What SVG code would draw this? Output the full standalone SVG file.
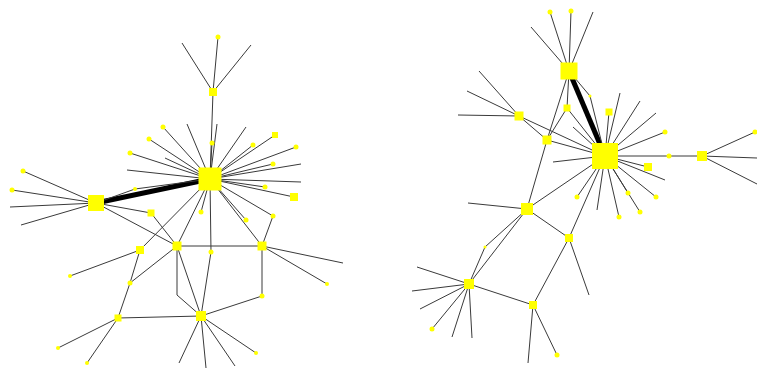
<svg xmlns="http://www.w3.org/2000/svg" width="757" height="370" viewBox="0 0 757 370">
<style>
.e{stroke:#3a3a3a;stroke-width:1;fill:none}
.t{stroke:#000;stroke-width:5;fill:none}
.n{fill:#ffff00}
</style>
<rect width="757" height="370" fill="#fff"/>
<g id="connectors">
<path class="t" d="M96,203 L210,179"/>
<path class="e" d="M210,179 L213,92 M213,92 L218,37 M213,92 L182,43 M213,92 L251,45
M210,179 L187,124 M210,179 L217,124 M210,179 L212,143 M210,179 L246,127 M210,179 L253,145 M210,179 L275,135 M210,179 L296,147 M210,179 L273,164 M210,179 L301,164 M210,179 L301,182 M210,179 L265,187 M210,179 L294,197
M210,179 L163,127 M210,179 L149,139 M210,179 L130,153 M210,179 L127,170 M210,179 L165,158
M210,179 L135,189 M96,203 L135,189
M96,203 L23,171 M96,203 L12,190 M96,203 L10,207 M96,203 L21,225
M96,203 L151,213 M96,203 L177,246 M151,213 L177,246
M210,179 L201,212 M210,179 L177,246 M210,179 L140,250 M210,179 L211,252 M210,179 L246,220 M210,179 L262,246 M210,179 L273,216 M273,216 L262,246
M177,246 L262,246 M177,246 L201,316 M177,246 L177,295 L201,316 M177,246 L130,283
M140,250 L70,276 M140,250 L130,283 M130,283 L118,318
M118,318 L58,348 M118,318 L87,363 M118,318 L201,316
M211,252 L201,316
M262,246 L343,263 M262,246 L327,284 M262,246 L262,296 M262,296 L201,316
M201,316 L179,363 M201,316 L206,368 M201,316 L235,366 M201,316 L256,353"/>
<path class="t" d="M569,71 L605,156"/>
<path class="e" d="M569,71 L550,12 M569,71 L571,11 M569,71 L531,27 M569,71 L593,12
M569,71 L567,108 M569,71 L547,140 M569,71 L590,96 M590,96 L605,156
M567,108 L547,140 M567,108 L605,156
M519,116 L479,71 M519,116 L467,91 M519,116 L458,115 M519,116 L547,140 M519,116 L605,156
M547,140 L605,156 M547,140 L527,209
M605,156 L609,112 M605,156 L620,93 M605,156 L640,101 M605,156 L656,113 M605,156 L665,132 M605,156 L669,156 M669,156 L702,156 M605,156 L648,167 M605,156 L665,180 M605,156 L656,197 M605,156 L640,212 M605,156 L628,193 M605,156 L619,217 M605,156 L597,210 M605,156 L577,197 M605,156 L569,238 M605,156 L553,162 M605,156 L527,209 M605,156 L573,127
M702,156 L755,132 M702,156 L757,158 M702,156 L757,184
M527,209 L468,203 M527,209 L569,238 M527,209 L485,247 M485,247 L469,284 M527,209 L469,284
M469,284 L417,267 M469,284 L412,291 M469,284 L420,309 M469,284 L432,329 M469,284 L452,337 M469,284 L472,338 M469,284 L533,305
M533,305 L569,238 M533,305 L528,363 M533,305 L557,355
M569,238 L589,295"/>
</g>
<g id="H1"><rect class="n" x="198.5" y="167.5" width="23" height="23"/></g>
<g id="H2"><rect class="n" x="88" y="195" width="16" height="16"/></g>
<g id="T"><rect class="n" x="209" y="88" width="8" height="8"/></g>
<g id="NL"><rect class="n" x="172.5" y="241.5" width="9" height="9"/></g>
<g id="NR"><rect class="n" x="257.5" y="241.5" width="9" height="9"/></g>
<g id="B"><rect class="n" x="196" y="311" width="10" height="10"/></g>
<g id="M"><rect class="n" x="114.5" y="314.5" width="7" height="7"/></g>
<g id="N151"><rect class="n" x="147.5" y="209.5" width="7" height="7"/></g>
<g id="N140"><rect class="n" x="136" y="246" width="8" height="8"/></g>
<g id="L275"><rect class="n" x="272" y="132" width="6" height="6"/></g>
<g id="L294"><rect class="n" x="290" y="193" width="8" height="8"/></g>
<g id="left-dots">
<circle class="n" cx="218" cy="37" r="2.5"/><circle class="n" cx="163" cy="127" r="2.5"/><circle class="n" cx="149" cy="139" r="2.5"/><circle class="n" cx="130" cy="153" r="2.5"/><circle class="n" cx="212" cy="143" r="2.5"/><circle class="n" cx="253" cy="145" r="2.5"/><circle class="n" cx="296" cy="147" r="2.5"/><circle class="n" cx="273" cy="164" r="2.5"/><circle class="n" cx="265" cy="187" r="2.5"/><circle class="n" cx="273" cy="216" r="2.5"/><circle class="n" cx="246" cy="220" r="2.5"/><circle class="n" cx="211" cy="252" r="2.5"/><circle class="n" cx="201" cy="212" r="2.5"/><circle class="n" cx="135" cy="189" r="2"/><circle class="n" cx="23" cy="171" r="2.5"/><circle class="n" cx="12" cy="190" r="2.5"/><circle class="n" cx="130" cy="283" r="2.5"/><circle class="n" cx="70" cy="276" r="2"/><circle class="n" cx="58" cy="348" r="2"/><circle class="n" cx="87" cy="363" r="2"/><circle class="n" cx="256" cy="353" r="2"/><circle class="n" cx="262" cy="296" r="2.5"/><circle class="n" cx="327" cy="284" r="2"/>
</g>
<g id="R1"><rect class="n" x="592" y="143" width="26" height="26"/></g>
<g id="R2"><rect class="n" x="560.5" y="62.5" width="17" height="17"/></g>
<g id="R3"><rect class="n" x="697" y="151" width="10" height="10"/></g>
<g id="W"><rect class="n" x="514.5" y="111.5" width="9" height="9"/></g>
<g id="C"><rect class="n" x="542.5" y="135.5" width="9" height="9"/></g>
<g id="D"><rect class="n" x="521" y="203" width="12" height="12"/></g>
<g id="F"><rect class="n" x="464" y="279" width="10" height="10"/></g>
<g id="G"><rect class="n" x="529" y="301" width="8" height="8"/></g>
<g id="E"><rect class="n" x="565" y="234" width="8" height="8"/></g>
<g id="R648"><rect class="n" x="644" y="163" width="8" height="8"/></g>
<g id="R609"><rect class="n" x="605.5" y="108.5" width="7" height="7"/></g>
<g id="R567"><rect class="n" x="563.5" y="104.5" width="7" height="7"/></g>
<g id="right-dots">
<circle class="n" cx="550" cy="12" r="2.5"/><circle class="n" cx="571" cy="11" r="2.5"/><circle class="n" cx="665" cy="132" r="2.5"/><circle class="n" cx="669" cy="156" r="2.5"/><circle class="n" cx="656" cy="197" r="2.5"/><circle class="n" cx="640" cy="212" r="2.5"/><circle class="n" cx="628" cy="193" r="2.5"/><circle class="n" cx="619" cy="217" r="2.5"/><circle class="n" cx="577" cy="197" r="2.5"/><circle class="n" cx="432" cy="329" r="2.5"/><circle class="n" cx="557" cy="355" r="2.5"/><circle class="n" cx="755" cy="132" r="2.5"/><circle class="n" cx="590" cy="96" r="1.5"/><circle class="n" cx="485" cy="247" r="1.5"/>
</g>
</svg>
